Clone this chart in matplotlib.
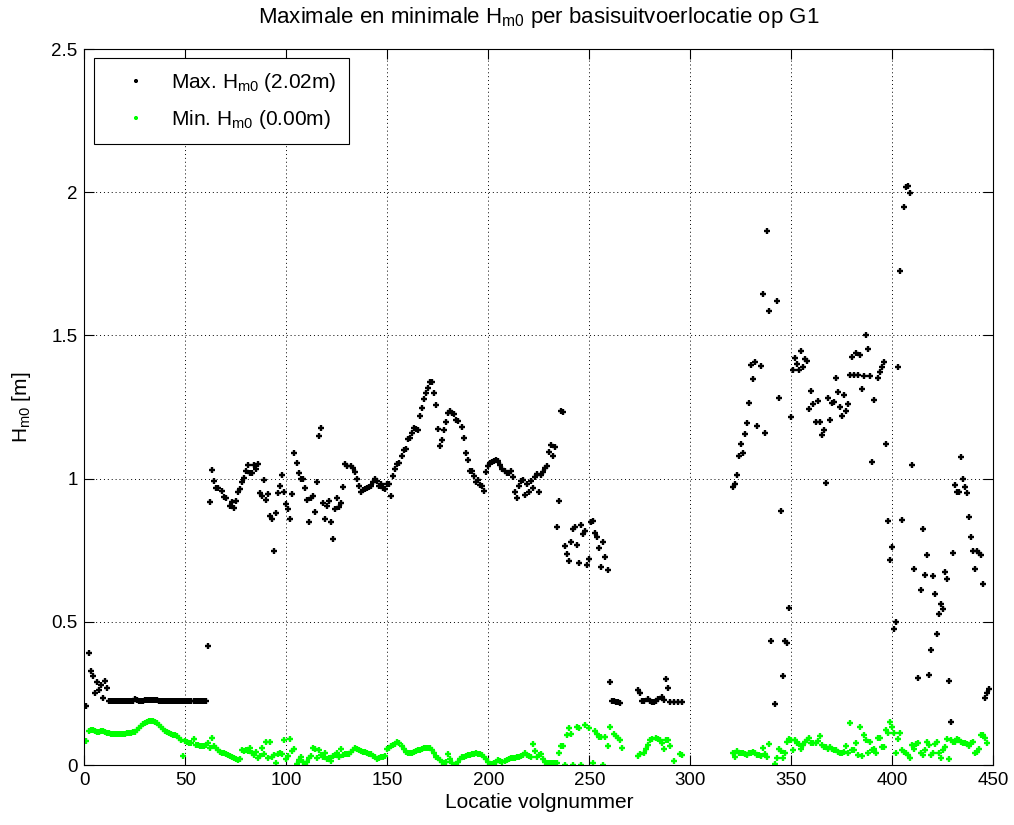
import numpy as np
import matplotlib
matplotlib.use("Agg")
import matplotlib.pyplot as plt
from matplotlib.ticker import FuncFormatter

plt.rcParams["font.family"] = ["Liberation Sans", "DejaVu Sans"]
plt.rcParams["mathtext.fontset"] = "custom"
plt.rcParams["mathtext.rm"] = "Liberation Sans"
plt.rcParams["mathtext.it"] = "Liberation Sans:italic"

n = np.nan

# locatie volgnummers 1..448
locatie = np.arange(1, 449)

# maximale Hm0 per locatie [m]
hm0_max = [
    .206, .39, .329, .31, .25, .29, .262, .28, .235, .295,
    .268, .223, .223, .223, .223, .223, .223, .223, .223, .223,
    .223, .223, .223, .223, .229, .227, .224, .224, .224, .227,
    .227, .227, .227, .227, .227, .227, .223, .223, .223, .223,
    .223, .223, .223, .223, .223, .223, .223, .223, .223, .223,
    .223, .223, .223, .223, .223, .223, .223, .223, .223, .223,
    .415, .917, 1.03, .993, .968, .968, n, .958, .937, .931,
    n, .906, .92, .896, .923, .954, .965, .988, 1.002, 1.027,
    1.046, 1.018, 1.018, 1.046, 1.032, 1.05, .951, .94, .995, .924,
    .948, .868, .858, .749, .88, .951, .974, 1.012, .955, .911,
    .893, .858, .948, 1.088, 1.053, 1.018, .998, 1.0, .968, .926,
    .847, .932, .939, .882, .988, 1.148, 1.176, .916, .859, .904,
    .921, .847, .79, .893, .934, .901, .914, .971, 1.05, 1.044,
    n, 1.044, 1.036, 1.024, .999, .974, .955, .96, .964, .967,
    .971, .974, .988, .998, .993, .975, .98, .966, .964, .982,
    .982, .94, 1.008, 1.032, 1.051, 1.053, 1.08, 1.099, 1.105, 1.14,
    1.142, 1.16, 1.175, 1.173, 1.17, 1.217, 1.248, 1.279, 1.299, 1.318,
    1.337, 1.337, 1.299, 1.256, 1.172, 1.115, 1.136, 1.169, 1.198, 1.23,
    1.235, 1.23, 1.224, 1.204, 1.2, n, 1.179, 1.141, 1.088, 1.064,
    1.027, 1.027, 1.01, .988, .995, .978, .975, .957, 1.024, 1.044,
    1.053, 1.059, 1.061, 1.066, 1.06, 1.047, 1.032, 1.027, 1.021, 1.021,
    1.027, 1.004, .954, .933, .975, .99, .996, .944, .981, .953,
    .992, .967, 1.007, 1.015, .954, 1.014, 1.023, 1.036, 1.045, 1.092,
    1.119, 1.08, 1.112, .832, .921, 1.237, 1.234, .764, .737, .711,
    .78, .825, .832, .767, .705, .839, .808, .816, .698, .719,
    .85, .852, .811, .797, .759, .691, .78, .725, .681, .289,
    .223, .223, .221, .219, .215, n, n, n, n, n,
    n, n, n, .262, .25, .223, .225, n, .232, .224,
    .219, .219, .224, .229, n, .236, .227, .302, .268, .221,
    n, .221, n, .221, n, .221, n, n, n, n,
    n, n, n, n, n, n, n, n, n, n,
    n, n, n, n, n, n, n, n, n, n,
    .972, .98, 1.012, 1.08, 1.121, 1.09, 1.156, 1.193, 1.265, 1.398,
    1.347, 1.406, 1.184, n, 1.392, 1.643, 1.16, 1.863, 1.586, .432,
    n, .214, 1.62, 1.281, .887, .31, .432, .425, .548, 1.216,
    1.378, 1.42, 1.399, 1.38, 1.446, 1.388, 1.416, 1.41, 1.242, 1.306,
    1.26, 1.198, 1.272, 1.198, 1.152, 1.17, .984, 1.283, 1.203, 1.265,
    1.268, 1.35, 1.303, 1.251, 1.22, 1.291, 1.237, 1.262, 1.362, 1.423,
    1.361, 1.44, 1.362, 1.43, 1.312, 1.357, 1.5, 1.452, 1.36, 1.057,
    1.276, n, 1.35, 1.371, 1.391, 1.408, 1.12, .852, .716, .76,
    .476, .5, 1.388, 1.726, .854, 1.947, 2.018, 2.02, 1.998, 1.046,
    .686, n, .305, .61, .824, .665, .735, .313, .4, .661,
    .596, .456, .527, .561, .544, .674, .651, .292, .149, .739,
    .978, .954, .954, 1.074, .998, .971, .949, .865, .797, .749,
    .685, .747, .742, .735, .633, .235, .25, .265,
]

# minimale Hm0 per locatie [m]
hm0_min = [
    .084, .119, .122, .122, .119, .117, .116, .119, .119, .116,
    .113, .111, .110, .109, .108, .108, .107, .107, .109, .110,
    .111, .112, .113, .114, .117, .123, .130, .137, .143, .148,
    .151, .153, .153, .152, .150, .145, .140, .133, .126, .120,
    .117, .113, .107, .106, .106, .102, .096, .088, .031, .083,
    .081, .076, .076, .090, .070, .070, .068, .066, .066, .070,
    .078, .061, .093, .066, .058, .052, .047, .043, .041, .039,
    .035, .031, .027, .023, .020, .018, .020, .052, .050, .054,
    .049, .058, .041, .035, .047, .023, .030, .061, .037, .081,
    .023, .079, .029, .035, .006, .037, .043, .040, .087, .022,
    .030, .090, .048, .055, .003, .017, .029, .012, .000, .012,
    .023, .030, .058, .055, .023, .052, .035, .029, .043, .020,
    .023, .015, .031, .035, .043, .029, .055, .035, .038, .040,
    .040, .046, .052, .058, .055, .052, .050, .046, .044, .043,
    .040, .037, .033, .027, .022, .023, .027, .029, .031, .055,
    .058, .066, .070, .073, .081, .078, .066, .055, .046, .043,
    .043, .043, .046, .050, .051, .052, .055, .058, .058, .058,
    .058, .052, .043, .029, .023, .017, .012, .008, .012, .038,
    .020, .008, .000, .003, .012, .020, .027, .029, .031, .035,
    .035, .038, .040, .043, .040, .038, .035, .027, .020, .012,
    .003, .003, .008, .012, .017, .015, .010, .013, .017, .020,
    .023, .026, .026, .027, .029, .031, .035, .041, .036, .031,
    .027, .073, .050, .027, .034, .038, .020, .012, .008, .006,
    .006, .006, .006, .006, .041, .066, .066, .000, .105, .128,
    .110, .000, n, .134, .131, .000, n, .139, n, .131,
    n, .006, .120, .108, .099, .099, .000, .097, .066, .134,
    n, .108, .101, .095, .089, .061, n, n, n, n,
    n, n, n, .031, .040, n, .043, .057, .070, .087,
    .090, n, .096, .092, .087, .078, .057, .087, .087, .066,
    n, .015, n, n, .038, .035, n, n, n, n,
    n, n, n, n, n, n, n, n, n, n,
    n, n, n, n, n, n, n, n, n, n,
    .043, .029, .050, .041, .041, .041, .038, .035, .041, .043,
    .047, .041, .035, .035, .031, .059, .038, .029, .073, n,
    n, .004, .026, .056, .049, .026, .043, .080, .090, .089,
    .052, .086, .076, .073, .057, .070, .080, .087, .096, .078,
    .078, .078, .083, .101, .069, .062, .064, .057, .064, .057,
    .052, .052, .047, .043, .041, .047, .066, .043, .145, .054,
    .054, .076, .035, .134, .031, .105, .087, .041, .082, .052,
    .057, .043, .093, .093, .064, .062, .122, .113, .151, .134,
    .113, .041, .090, .111, .054, .047, .041, .035, .023, .070,
    .057, .073, .078, .041, .035, .052, .082, .070, .035, .043,
    .073, .082, .041, .023, .054, .062, .090, .020, .086, .082,
    .082, .090, .087, .082, .078, .076, .073, .066, .076, .082,
    .041, .047, .057, .105, .105, .095, .076, n,
]

y_ticks = [0, 0.5, 1, 1.5, 2, 2.5]
x_ticks = [0, 50, 100, 150, 200, 250, 300, 350, 400, 450]


def main():
    fig = plt.figure(figsize=(10.14, 8.25), dpi=100)
    ax = fig.add_axes([0.0833, 0.0727, 0.8962, 0.8679])

    hmax = np.array(hm0_max, dtype=float)
    hmin = np.array(hm0_min, dtype=float)

    ax.plot(locatie, hmax, "+", color="black", ms=4.5, mew=1.7, linestyle="none",
            label="Max. H$_{\\mathrm{m0}}$ (%.2fm)" % np.nanmax(hmax))
    ax.plot(locatie, hmin, "+", color="#00ff00", ms=4.5, mew=1.7, linestyle="none",
            label="Min. H$_{\\mathrm{m0}}$ (%.2fm)" % np.nanmin(hmin))

    ax.set_xlim(0, 450)
    ax.set_ylim(0, 2.5)
    ax.set_xticks(x_ticks)
    ax.set_yticks(y_ticks)
    ax.yaxis.set_major_formatter(FuncFormatter(lambda v, p: "%g" % v))
    ax.tick_params(direction="in", length=7, width=0.8, labelsize=13.5,
                   top=True, right=True, pad=5)
    ax.grid(True, color="black", linestyle=(0, (1, 3)), linewidth=0.7)
    for s in ax.spines.values():
        s.set_linewidth(0.8)

    ax.set_xlabel("Locatie volgnummer", fontsize=15, labelpad=3)
    ax.set_ylabel("H$_{\\mathrm{m0}}$ [m]", fontsize=15, labelpad=13)
    ax.set_title("Maximale en minimale H$_{\\mathrm{m0}}$ per basisuitvoerlocatie op G1",
                 fontsize=16, pad=19)

    leg = ax.legend(loc="upper left", fontsize=15, fancybox=False, framealpha=1,
                    edgecolor="black", borderaxespad=0.45, labelspacing=0.7,
                    handlelength=2.8, handletextpad=0.3, borderpad=0.6,
                    markerscale=0.7)
    leg.get_frame().set_linewidth(0.8)

    fig.savefig("out.png", dpi=100)
    plt.close(fig)


if __name__ == "__main__":
    main()
